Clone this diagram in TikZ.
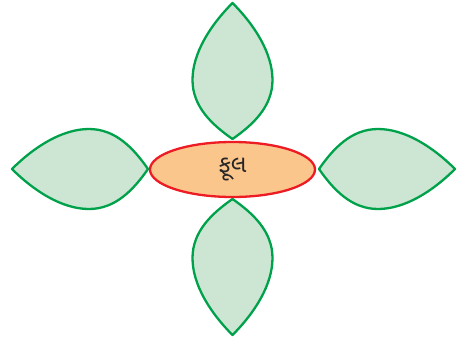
\documentclass[tikz,border=0pt]{standalone}
\usepackage{fontspec}
\newfontfamily\gujfont[Script=Gujarati]{Noto Sans Gujarati UI}
\usetikzlibrary{shapes.geometric}
\definecolor{petalfill}{HTML}{CCE6D3}
\definecolor{petalline}{HTML}{00A14B}
\definecolor{flowerfill}{HTML}{FBC68C}
\definecolor{flowerline}{HTML}{ED1C24}
\tikzset{
  petal/.style={fill=petalfill, draw=petalline, line width=2.3pt, line join=round},
  flower/.style={ellipse, fill=flowerfill, draw=flowerline, line width=2.3pt,
    minimum width=165pt, minimum height=55pt, inner sep=0pt,
    font=\gujfont\fontsize{24}{28}\selectfont, text=black!85}
}
\newcommand{\petalpath}{(0,0) .. controls (22,22) and (40,50) .. (40,77) .. controls (40,104) and (20,122) .. (0,136) .. controls (-20,122) and (-40,104) .. (-40,77) .. controls (-40,50) and (-22,22) .. (0,0) -- cycle}
\begin{document}
\begin{tikzpicture}[x=1pt,y=-1pt]
\useasboundingbox (0,0) rectangle (464,338);
\begin{scope}[shift={(232.5,3)}]
  \draw[petal] \petalpath;
\end{scope}
\begin{scope}[shift={(232.5,335)},rotate=180]
  \draw[petal] \petalpath;
\end{scope}
\begin{scope}[shift={(12,169)},rotate=90]
  \draw[petal] \petalpath;
\end{scope}
\begin{scope}[shift={(455,169)},rotate=-90]
  \draw[petal] \petalpath;
\end{scope}
\node[flower] (flower) at (232.5,169.5) {ફૂલ};
\end{tikzpicture}
\end{document}
